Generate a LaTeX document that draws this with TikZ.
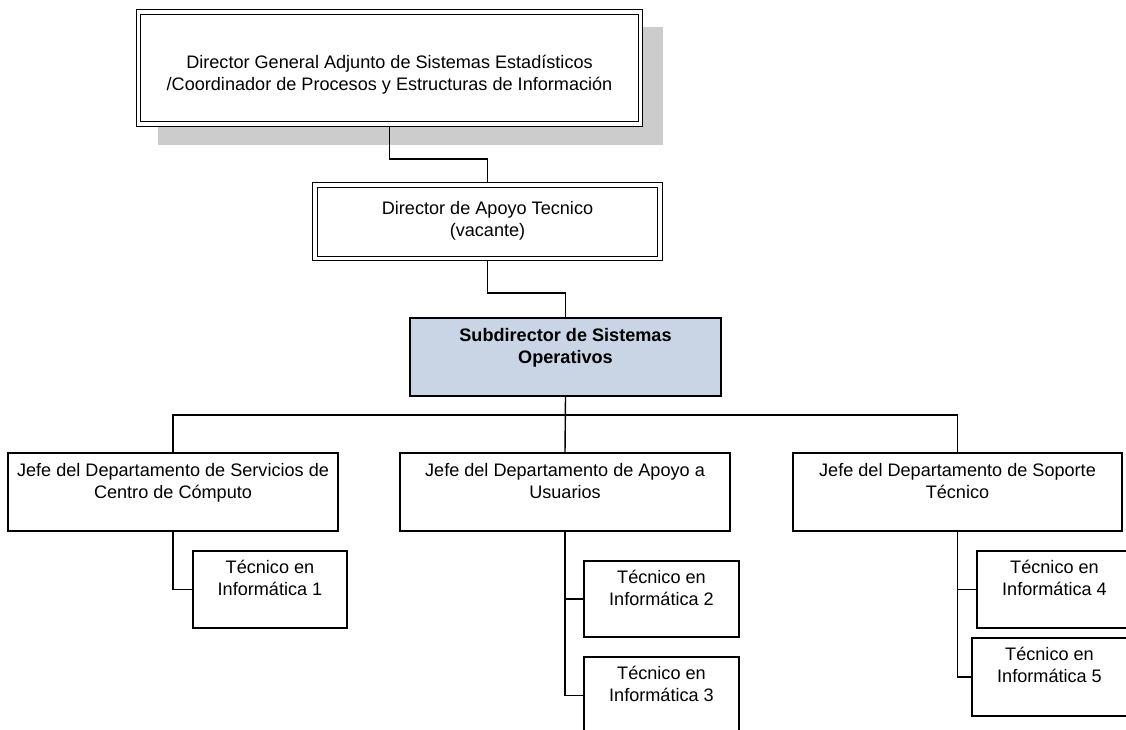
\documentclass[tikz,border=0pt]{standalone}
\usepackage{fontspec}
\setmainfont{Liberation Sans}
\usetikzlibrary{backgrounds}
\definecolor{subfill}{RGB}{201,213,228}
\definecolor{shadowgray}{RGB}{204,204,204}
\begin{document}
\begin{tikzpicture}[x=1pt,y=-1pt,
  box/.style={draw=black, line width=1.2pt, fill=white, inner sep=0pt, outer sep=0pt},
  dbl/.style={draw=black, fill=white, line width=1.1pt, double=white, double distance=3.4pt,
              inner sep=0pt, outer sep=0pt},
  txt/.style={align=center, inner sep=0pt, outer sep=0pt, anchor=north,
              font=\fontsize{18.1}{22}\selectfont},
  conn/.style={draw=black, line width=1.4pt}
]
\path[use as bounding box] (0,0) rectangle (1126,729);

% Top management
\node[dbl, minimum width=502pt, minimum height=112pt] (dg) at (389.5,68) {};
\node[txt] (dgt) at ([yshift=-40.6pt]dg.north)
  {\strut Director General Adjunto de Sistemas Estadísticos\\/Coordinador de Procesos y Estructuras de Información};

\node[dbl, minimum width=345pt, minimum height=73.5pt] (dat) at (487.5,221.75) {};
\node[txt] (datt) at ([yshift=-13.6pt]dat.north)
  {\strut Director de Apoyo Tecnico\\(vacante)};

\node[box, fill=subfill, minimum width=311pt, minimum height=78pt] (sub) at (565.5,357) {};
\node[txt, font=\fontsize{18.1}{22}\selectfont\bfseries] (subt) at ([yshift=-8.3pt]sub.north)
  {\strut Subdirector de Sistemas\\Operativos};

% Departments
\node[box, minimum width=330pt, minimum height=78pt] (ja) at (173,492) {};
\node[txt] (jat) at ([yshift=-8.3pt]ja.north)
  {\strut Jefe del Departamento de Servicios de\\Centro de Cómputo};

\node[box, minimum width=330pt, minimum height=78pt] (jb) at (565,492) {};
\node[txt] (jbt) at ([yshift=-8.3pt]jb.north)
  {\strut Jefe del Departamento de Apoyo a\\Usuarios};

\node[box, minimum width=329pt, minimum height=78pt] (jc) at (957.5,492) {};
\node[txt] (jct) at ([yshift=-8.3pt]jc.north)
  {\strut Jefe del Departamento de Soporte\\Técnico};

% Technicians
\node[box, minimum width=154pt, minimum height=77pt] (t1) at (270,589.5) {};
\node[txt] (t1t) at ([yshift=-6.9pt]t1.north) {\strut Técnico en\\Informática 1};

\node[box, minimum width=155pt, minimum height=76pt] (t2) at (661.5,599) {};
\node[txt] (t2t) at ([yshift=-6.9pt]t2.north) {\strut Técnico en\\Informática 2};

\node[box, minimum width=155pt, minimum height=77pt] (t3) at (661.5,695.5) {};
\node[txt] (t3t) at ([yshift=-6.9pt]t3.north) {\strut Técnico en\\Informática 3};

\node[box, minimum width=155pt, minimum height=77pt] (t4) at (1054.5,589.5) {};
\node[txt] (t4t) at ([yshift=-6.9pt]t4.north) {\strut Técnico en\\Informática 4};

\node[box, minimum width=155pt, minimum height=78pt] (t5) at (1049.5,677) {};
\node[txt] (t5t) at ([yshift=-6.9pt]t5.north) {\strut Técnico en\\Informática 5};

\begin{pgfonlayer}{background}
  % drop shadow of the top box
  \fill[shadowgray] ([shift={(19.5,15)}]dg.north west) rectangle ([shift={(22.5,21)}]dg.south east);
  % reporting lines
  \draw[conn] (dg.south) -- ++(0,35) -| (dat.north);
  \draw[conn] (dat.south) -- ++(0,34.5) -| (sub.north);
  \draw[conn] (sub.south) -- (jb.north);
  \draw[conn] (ja.north) -- ++(0,-38) -| (jc.north);
  \draw[conn] (ja.south) |- (t1.west);
  \draw[conn] (jb.south) |- (t2.west);
  \draw[conn] (jb.south) |- (t3.west);
  \draw[conn] (jc.south) |- (t4.west);
  \draw[conn] (jc.south) |- (t5.west);
\end{pgfonlayer}
\end{tikzpicture}
\end{document}
